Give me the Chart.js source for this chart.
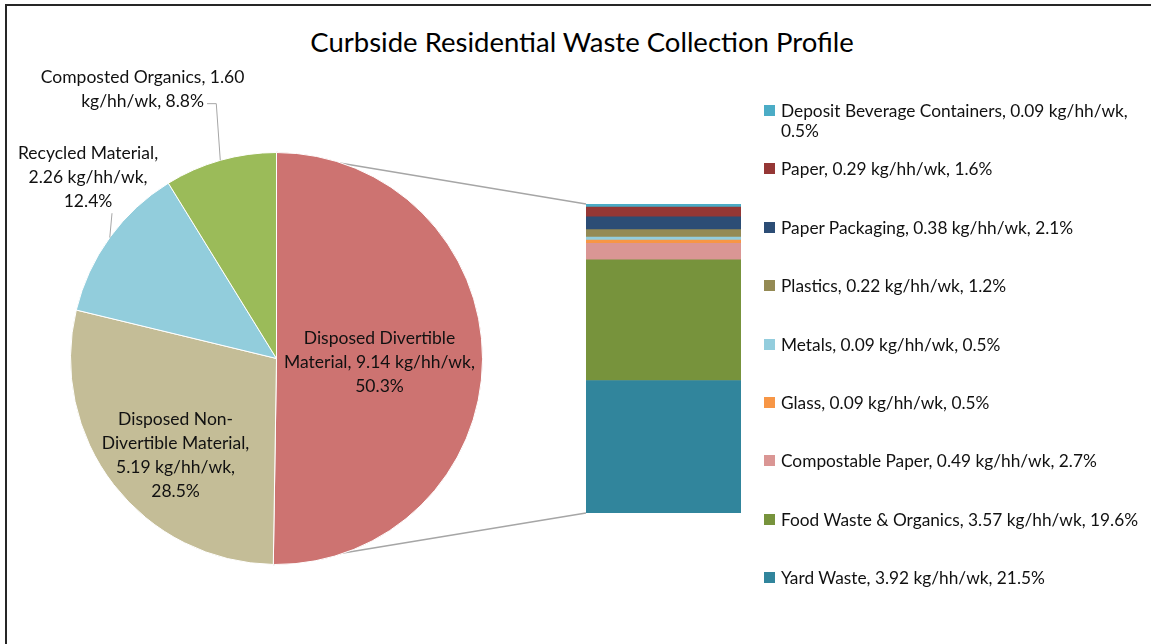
<!DOCTYPE html>
<html>
<head>
<meta charset="utf-8">
<script src="https://cdn.jsdelivr.net/npm/chart.js@4"></script>
<style>
  body { margin: 0; background: #fff; font-family: Lato, sans-serif; }
  #wrap { position: relative; width: 1151px; height: 644px; overflow: hidden; }
  #frame { position: absolute; left: 5px; top: 4px; width: 1300px; height: 800px;
    border-left: 2px solid #262626; border-top: 2px solid #262626; }
  #title { position: absolute; left: 0; top: 25px; width: 1164px; text-align: center;
    font-size: 27.5px; color: #000; }
  canvas { position: absolute; left: 0; top: 0; }
  #legend { position: absolute; left: 764px; top: 0; }
  .item { position: absolute; left: 0; width: 382px; font-size: 17.3px; line-height: 20px; color: #111; white-space: normal; }
  .box { position: absolute; left: 0; top: 4px; width: 11px; height: 11px; }
  .txt { margin-left: 17px; }
</style>
</head>
<body>
<div id="wrap">
  <div id="frame"></div>
  <div id="title">Curbside Residential Waste Collection Profile</div>
  <canvas id="bar" width="1151" height="644"></canvas>
  <canvas id="pie" width="1151" height="644"></canvas>
  <div id="legend"></div>
</div>
<script>
  // main pie
  const pieNames = [
    'Disposed Divertible Material',
    'Disposed Non-Divertible Material',
    'Recycled Material',
    'Composted Organics',
  ];
  const pieValues = [9.14, 5.19, 2.26, 1.6];
  const pieLabelLines = [
    ['Disposed Divertible', 'Material, 9.14 kg/hh/wk,', '50.3%'],
    ['Disposed Non-', 'Divertible Material,', '5.19 kg/hh/wk,', '28.5%'],
    ['Recycled Material,', '2.26 kg/hh/wk,', '12.4%'],
    ['Composted Organics, 1.60', 'kg/hh/wk, 8.8%'],
  ];
  const pieColors = ['#CD7371', '#C4BD97', '#92CDDC', '#9BBB59'];

  // breakdown of the divertible slice, top of the bar first
  const subNames = [
    'Deposit Beverage Containers',
    'Paper',
    'Paper Packaging',
    'Plastics',
    'Metals',
    'Glass',
    'Compostable Paper',
    'Food Waste & Organics',
    'Yard Waste',
  ];
  const subValues = [0.09, 0.29, 0.38, 0.22, 0.09, 0.09, 0.49, 3.57, 3.92];
  const subPct = ['0.5', '1.6', '2.1', '1.2', '0.5', '0.5', '2.7', '19.6', '21.5'];
  const subColors = [
    '#4BACC6', '#953735', '#2C4D75', '#948A54', '#93CDDD',
    '#F79646', '#DA9694', '#77933C', '#31859C',
  ];

  // label anchors in units of pie radius from the centre, and leader style
  const labelSpots = [
    { dx: 0.5, dy: 0.02 },
    { dx: -0.49, dy: 0.47 },
    { dx: -0.915, dy: -0.88, leader: 'below' },
    { dx: -0.65, dy: -1.305, leader: 'right' },
  ];
  const labelFont = '17.5px Lato';
  const labelLine = 24;

  const barTotal = subValues.reduce((a, b) => a + b, 0);

  const barChart = new Chart(document.getElementById('bar'), {
    type: 'bar',
    data: {
      labels: ['Disposed Divertible Material'],
      datasets: subNames
        .map((name, i) => ({
          label: name,
          data: [subValues[i]],
          backgroundColor: subColors[i],
          borderWidth: 0,
          categoryPercentage: 1,
          barPercentage: 1,
        }))
        .reverse(),
    },
    options: {
      responsive: false,
      animation: false,
      layout: { padding: { left: 586, right: 410, top: 204, bottom: 131 } },
      plugins: { legend: { display: false }, tooltip: { enabled: false } },
      scales: {
        x: { display: false, stacked: true },
        y: { display: false, stacked: true, min: 0, max: barTotal },
      },
    },
  });

  const pieExtras = {
    id: 'pieExtras',
    beforeDatasetsDraw(chart) {
      // connector lines from the divertible slice to the bar
      const arc = chart.getDatasetMeta(0).data[0];
      const r = arc.outerRadius;
      const n = barChart.data.datasets.length;
      const topBar = barChart.getDatasetMeta(n - 1).data[0];
      const bottomBar = barChart.getDatasetMeta(0).data[0];
      const left = topBar.x - topBar.width / 2;
      const ctx = chart.ctx;
      ctx.save();
      ctx.strokeStyle = '#A6A6A6';
      ctx.lineWidth = 1.5;
      ctx.beginPath();
      ctx.moveTo(arc.x + r * Math.cos(arc.startAngle), arc.y + r * Math.sin(arc.startAngle));
      ctx.lineTo(left, topBar.y);
      ctx.moveTo(arc.x + r * Math.cos(arc.endAngle), arc.y + r * Math.sin(arc.endAngle));
      ctx.lineTo(left, bottomBar.base);
      ctx.stroke();
      ctx.restore();
    },
    afterDatasetsDraw(chart) {
      const ctx = chart.ctx;
      ctx.save();
      ctx.font = labelFont;
      ctx.fillStyle = '#111';
      ctx.textAlign = 'center';
      ctx.textBaseline = 'middle';
      chart.getDatasetMeta(0).data.forEach((arc, i) => {
        const spot = labelSpots[i];
        const r = arc.outerRadius;
        const cx = arc.x + spot.dx * r;
        const cy = arc.y + spot.dy * r;
        const lines = pieLabelLines[i];
        const y0 = cy - ((lines.length - 1) * labelLine) / 2;
        lines.forEach((t, k) => ctx.fillText(t, cx, y0 + k * labelLine));
        if (!spot.leader) return;
        const mid = (arc.startAngle + arc.endAngle) / 2;
        const ex = arc.x + r * Math.cos(mid);
        const ey = arc.y + r * Math.sin(mid);
        ctx.strokeStyle = '#A6A6A6';
        ctx.lineWidth = 1;
        ctx.beginPath();
        if (spot.leader === 'right') {
          const last = lines[lines.length - 1];
          const ly = y0 + (lines.length - 1) * labelLine + 2;
          const lx = cx + ctx.measureText(last).width / 2 + 3;
          ctx.moveTo(lx, ly);
          ctx.lineTo(ex - 4, ly);
          ctx.lineTo(ex, ey);
        } else {
          const ly = y0 + (lines.length - 1) * labelLine + 12;
          ctx.moveTo(cx + 24, ly);
          ctx.lineTo(ex, ey);
        }
        ctx.stroke();
      });
      ctx.restore();
    },
  };

  new Chart(document.getElementById('pie'), {
    type: 'pie',
    data: {
      labels: pieNames,
      datasets: [{
        data: pieValues,
        backgroundColor: pieColors,
        borderColor: '#ffffff',
        borderWidth: 1,
      }],
    },
    options: {
      responsive: false,
      animation: false,
      layout: { padding: { left: 70, right: 668, top: 152, bottom: 79 } },
      plugins: { legend: { display: false }, tooltip: { enabled: false } },
    },
    plugins: [pieExtras],
  });

  // legend, same order as the bar from top down
  const legend = document.getElementById('legend');
  subNames.forEach((name, i) => {
    const item = document.createElement('div');
    item.className = 'item';
    item.style.top = (101 + i * 58.4) + 'px';
    item.innerHTML = '<span class="box" style="background:' + subColors[i] + '"></span>' +
      '<div class="txt"></div>';
    item.querySelector('.txt').textContent =
      name + ', ' + subValues[i].toFixed(2) + ' kg/hh/wk, ' + subPct[i] + '%';
    legend.appendChild(item);
  });
</script>
</body>
</html>
